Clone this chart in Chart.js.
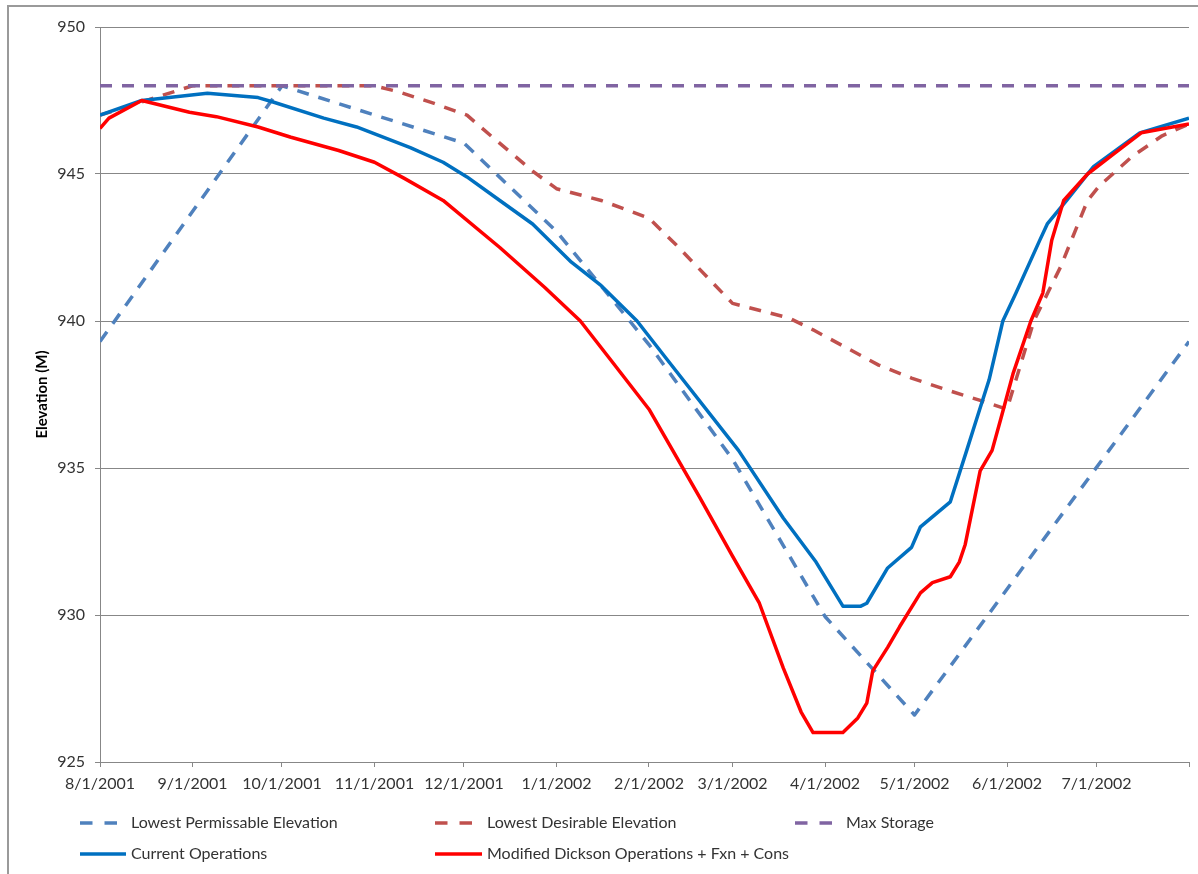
<!DOCTYPE html>
<html>
<head>
<meta charset="utf-8">
<script src="https://cdn.jsdelivr.net/npm/chart.js@4.4.0/dist/chart.umd.min.js"></script>
<style>
html,body{margin:0;padding:0;background:#fff;}
#wrap{width:1198px;height:874px;position:relative;overflow:hidden;}
</style>
</head>
<body>
<div id="wrap"><canvas id="c" width="1198" height="874"></canvas></div>
<script>
// ---- tick labels (x = days since 8/1/2001) ----
const monthTickDays = [0, 31, 61, 92, 122, 153, 184, 212, 243, 273, 304, 334, 365];
const monthTickLabels = ['8/1/2001', '9/1/2001', '10/1/2001', '11/1/2001', '12/1/2001', '1/1/2002',
  '2/1/2002', '3/1/2002', '4/1/2002', '5/1/2002', '6/1/2002', '7/1/2002', ''];
const yMin = 925, yMax = 950, yStep = 5;
const yTitle = 'Elevation (M)';

// ---- series names ----
const seriesNames = ['Lowest Permissable Elevation', 'Lowest Desirable Elevation', 'Max Storage',
  'Current Operations', 'Modified Dickson Operations + Fxn + Cons'];

// ---- series values (day, elevation) ----
const permDays = [0, 61, 122, 153, 184, 212, 243, 273, 365];
const permVals = [939.3, 948.0, 946.05, 943.05, 939.2, 935.3, 929.95, 926.6, 939.3];

const desDays = [0, 31, 92, 100, 112, 123, 131, 145, 153, 168, 184, 193, 212, 231, 239, 250, 261, 272, 284, 295, 304, 313, 322, 331, 335, 346, 356, 365];
const desVals = [947.0, 948.0, 948.0, 947.8, 947.4, 947.0, 946.3, 945.1, 944.5, 944.1, 943.5, 942.6, 940.6, 940.1, 939.7, 939.1, 938.5, 938.06, 937.65, 937.3, 937.0, 940.0, 941.85, 944.1, 944.6, 945.6, 946.3, 946.7];

const maxDays = [0, 365];
const maxVals = [948.0, 948.0];

const curDays = [0, 14, 36, 53, 58, 75, 86, 104, 115, 123, 134, 145, 158, 168, 180, 190, 214, 229, 240, 249, 255, 257, 264, 272, 275, 285, 290.5, 293, 298, 302.6, 307, 315, 317.5, 324, 333, 348.5, 365];
const curVals = [947.0, 947.5, 947.75, 947.6, 947.45, 946.9, 946.6, 945.9, 945.4, 944.9, 944.1, 943.3, 942.0, 941.2, 940.0, 938.7, 935.6, 933.3, 931.8, 930.3, 930.3, 930.4, 931.6, 932.3, 933.0, 933.85, 935.6, 936.4, 938.0, 940.0, 940.95, 942.75, 943.3, 944.1, 945.25, 946.4, 946.9];

const modDays = [0, 3, 14, 30, 39, 53, 64, 80, 92, 102, 115, 134, 149, 161, 171, 184, 201, 212, 221, 229, 235, 239, 249, 254, 257, 259, 264, 268, 275, 279, 285, 288, 290, 295, 299, 302, 306, 312, 316, 319, 323, 331, 340, 349, 365];
const modVals = [946.55, 946.9, 947.5, 947.1, 946.95, 946.6, 946.25, 945.8, 945.4, 944.85, 944.1, 942.5, 941.15, 940.0, 938.7, 937.0, 934.0, 932.0, 930.4, 928.2, 926.7, 926.0, 926.0, 926.5, 927.0, 928.1, 928.9, 929.6, 930.75, 931.1, 931.3, 931.8, 932.4, 934.9, 935.6, 936.7, 938.2, 940.0, 940.95, 942.75, 944.1, 945.0, 945.7, 946.4, 946.7];

// ---- styles ----
const FONT = "Lato, 'Open Sans', sans-serif";
const TEXT = '#333333';
const GRID = '#878787';
const DASH = [12, 10];

function pts(days, vals) { return days.map((d, i) => ({ x: d, y: vals[i] })); }

const datasets = [
  { label: seriesNames[0], data: pts(permDays, permVals), borderColor: '#4F81BD', borderDash: DASH, borderWidth: 3.5, order: 5 },
  { label: seriesNames[1], data: pts(desDays, desVals), borderColor: '#C0504D', borderDash: DASH, borderWidth: 3.5, order: 4 },
  { label: seriesNames[2], data: pts(maxDays, maxVals), borderColor: '#8064A2', borderDash: DASH, borderWidth: 3.5, order: 3 },
  { label: seriesNames[3], data: pts(curDays, curVals), borderColor: '#0070C0', borderWidth: 3.5, order: 2 },
  { label: seriesNames[4], data: pts(modDays, modVals), borderColor: '#FF0000', borderWidth: 3.5, order: 1 }
].map(d => Object.assign({ pointRadius: 0, tension: 0, fill: false, borderCapStyle: 'butt', borderJoinStyle: 'round' }, d));

// legend layout (positions only)
const legendSlots = [
  { x: 80, y: 823, len: 37, tx: 131 },
  { x: 435, y: 823, len: 38, tx: 487 },
  { x: 795, y: 823, len: 38, tx: 846 },
  { x: 80, y: 854, len: 46, tx: 131 },
  { x: 435, y: 854, len: 47, tx: 487 }
];

const frameAndLegend = {
  id: 'frameAndLegend',
  beforeDraw(chart) {
    const ctx = chart.ctx;
    ctx.save();
    ctx.fillStyle = '#fff';
    ctx.fillRect(0, 0, chart.width, chart.height);
    ctx.strokeStyle = '#9a9a9a';
    ctx.lineWidth = 2;
    ctx.strokeRect(8, 6, 1400, 1000);
    ctx.restore();
  },
  afterDraw(chart) {
    const ctx = chart.ctx;
    ctx.save();
    chart.data.datasets.forEach((ds, i) => {
      const s = legendSlots[i];
      ctx.beginPath();
      ctx.strokeStyle = ds.borderColor;
      ctx.lineWidth = 3.5;
      ctx.lineCap = 'butt';
      ctx.setLineDash(ds.borderDash ? [12.5, 12] : []);
      ctx.moveTo(s.x, s.y);
      ctx.lineTo(s.x + s.len, s.y);
      ctx.stroke();
      ctx.setLineDash([]);
      ctx.fillStyle = TEXT;
      ctx.font = '16px ' + FONT;
      ctx.textBaseline = 'middle';
      ctx.textAlign = 'left';
      ctx.fillText(ds.label, s.tx, s.y);
    });
    ctx.restore();
  }
};

new Chart(document.getElementById('c'), {
  type: 'line',
  data: { datasets },
  options: {
    responsive: false,
    animation: false,
    devicePixelRatio: 1,
    layout: { padding: { left: 0, right: 9, top: 27, bottom: 82 } },
    plugins: { legend: { display: false }, tooltip: { enabled: false } },
    scales: {
      x: {
        type: 'linear',
        min: monthTickDays[0],
        max: monthTickDays[monthTickDays.length - 1],
        afterBuildTicks: (scale) => { scale.ticks = monthTickDays.map(v => ({ value: v })); },
        afterFit: (scale) => { scale.height = 30; },
        ticks: {
          autoSkip: false, maxRotation: 0, minRotation: 0, padding: 7,
          color: TEXT, font: { family: FONT, size: 16 },
          callback: (v, i) => monthTickLabels[i]
        },
        grid: { display: true, drawOnChartArea: false, drawTicks: true, tickLength: 5, color: GRID, lineWidth: 1 },
        border: { display: true, color: GRID, width: 1 }
      },
      y: {
        min: yMin, max: yMax,
        afterFit: (scale) => { scale.width = 100; },
        ticks: { stepSize: yStep, padding: 10, color: TEXT, font: { family: FONT, size: 16 } },
        grid: { color: GRID, lineWidth: 1, drawTicks: true, tickLength: 5 },
        border: { display: true, color: GRID, width: 1 },
        title: { display: true, text: yTitle, color: '#000', font: { family: FONT, size: 15, weight: 'bold' }, padding: { top: 33, bottom: 0 } }
      }
    }
  },
  plugins: [frameAndLegend]
});
</script>
</body>
</html>
